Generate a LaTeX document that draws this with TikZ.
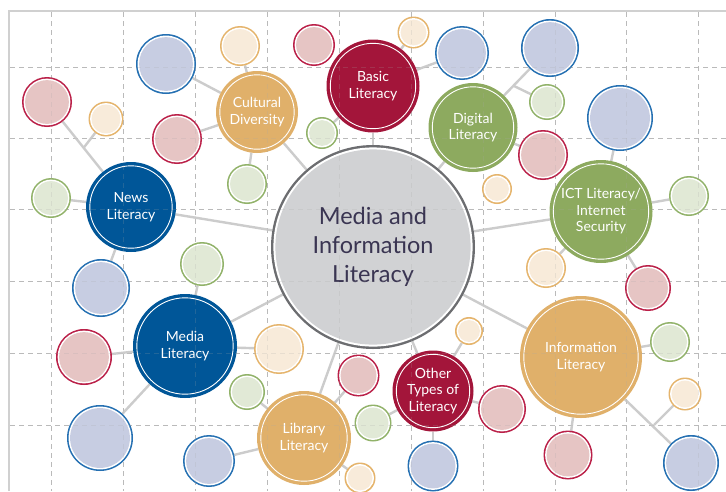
\documentclass[tikz,border=0pt]{standalone}
\usepackage{fontspec}
\setmainfont{Lato}
\usetikzlibrary{calc}
\definecolor{cblue}{RGB}{0,86,152}
\definecolor{cred}{RGB}{163,21,58}
\definecolor{cgold}{RGB}{224,176,106}
\definecolor{cgreen}{RGB}{141,170,95}
\definecolor{bring}{RGB}{37,112,178}
\definecolor{bfill}{RGB}{199,205,226}
\definecolor{rring}{RGB}{186,32,72}
\definecolor{rfill}{RGB}{230,197,196}
\definecolor{yring}{RGB}{229,180,108}
\definecolor{yfill}{RGB}{248,235,218}
\definecolor{gring}{RGB}{145,178,105}
\definecolor{gfill}{RGB}{225,233,214}
\definecolor{ctrring}{RGB}{108,109,112}
\definecolor{ctrfill}{RGB}{209,210,212}
\definecolor{ctrtext}{RGB}{58,53,82}
\definecolor{linkgray}{RGB}{204,204,204}
\definecolor{framegray}{RGB}{208,208,208}
\pgfdeclarelayer{gridl}
\pgfdeclarelayer{conn}
\pgfdeclarelayer{over}
\pgfsetlayers{gridl,conn,main,over}
\tikzset{
  gridline/.style={draw=gray!50, line width=0.9pt, dash pattern=on 5pt off 4pt},
  gridover/.style={draw=gray!70, line width=0.9pt, dash pattern=on 5pt off 4pt, opacity=0.2},
  framel/.style={draw=framegray, line width=1.5pt},
  link/.style={draw=linkgray, line width=2.4pt},
  bubnode/.style={circle, inner sep=0pt, outer sep=0pt},
  catlabel/.style={text=white, align=center, font=\fontsize{14}{16.5}\selectfont},
  ctrlabel/.style={text=ctrtext, align=center, font=\fontsize{23.5}{29}\selectfont},
}
% small bubble: name, x, y, r, kind (b/r/y/g)
\newcommand\bub[5]{%
  \fill[#5ring] (#2,#3) circle[radius=#4*1pt];
  \fill[white] (#2,#3) circle[radius=(#4-1.6)*1pt];
  \fill[#5fill] (#2,#3) circle[radius=(#4-3.1)*1pt];
  \node[bubnode, minimum size=2*#4*1pt] (#1) at (#2,#3) {};
}
% category circle: name, x, y, r, colour, text
\newcommand\catc[6]{%
  \fill[#5] (#2,#3) circle[radius=#4*1pt];
  \draw[white, line width=0.9pt] (#2,#3) circle[radius=(#4-3.8)*1pt];
  \node[bubnode, catlabel, minimum size=2*#4*1pt] (#1) at (#2,#3) {#6};
}
\begin{document}
\begin{tikzpicture}[x=1pt,y=-1pt]
\useasboundingbox (0,0) rectangle (726,491);
\begin{pgfonlayer}{gridl}
  \fill[white] (0,0) rectangle (726,491);
  \foreach \gx in {51,123,195,267,339,411,483,555,626,698}
    \draw[gridline] (\gx,12) -- (\gx,491);
  \foreach \gy in {67,138,209,281,353,425}
    \draw[gridline] (10,\gy) -- (726,\gy);
  \draw[framel] (9,491) -- (9,11) -- (726,11);
\end{pgfonlayer}

% centre
\fill[ctrring] (373,247) circle[radius=102pt];
\fill[white] (373,247) circle[radius=99.6pt];
\fill[ctrfill] (373,247) circle[radius=97.6pt];
\node[bubnode, ctrlabel, minimum size=204pt] (ctr) at (373,247) {Media and\\Information\\Literacy};

% categories
\catc{basic}{373}{86}{46.5}{cred}{Basic\\Literacy}
\catc{cult}{257}{112}{41}{cgold}{Cultural\\Diversity}
\catc{digit}{473}{127.5}{44.5}{cgreen}{Digital\\Literacy}
\catc{ict}{601}{211.5}{51.5}{cgreen}{ICT Literacy/\\Internet\\Security}
\catc{news}{131}{207}{45}{cblue}{News\\Literacy}
\catc{media}{185}{346}{52}{cblue}{Media\\Literacy}
\catc{lib}{304}{438}{47}{cgold}{Library\\Literacy}
\catc{other}{433}{391}{40.5}{cred}{Other\\Types of\\Literacy}
\catc{info}{581}{357}{61}{cgold}{Information\\Literacy}

% small bubbles
\bub{b1}{166}{64}{30}{b}
\bub{y1}{240}{46}{20}{y}
\bub{r1}{314}{45}{21}{r}
\bub{r2}{47}{102}{25}{r}
\bub{y2}{106}{119}{17.5}{y}
\bub{r3}{177}{139}{25}{r}
\bub{g1}{322}{133}{16}{g}
\bub{g2}{247}{184}{20}{g}
\bub{g3}{51}{198}{20}{g}
\bub{y3}{413.5}{32.5}{16}{y}
\bub{b2}{462}{53}{27}{b}
\bub{b3}{550}{48}{29}{b}
\bub{g4}{547}{102}{18}{g}
\bub{b4}{620}{118}{33}{b}
\bub{r4}{543}{155}{25}{r}
\bub{y4}{497}{189}{15}{y}
\bub{g5}{689}{196}{20}{g}
\bub{b5}{101}{288}{29}{b}
\bub{g6}{202}{264}{22}{g}
\bub{r5}{84}{357}{28}{r}
\bub{y5}{279}{349}{25}{y}
\bub{g7}{247}{392}{18}{g}
\bub{b6}{100}{438}{33}{b}
\bub{b7}{209}{461}{26}{b}
\bub{r6}{358.5}{375.5}{21}{r}
\bub{g8}{373}{423}{18.5}{g}
\bub{y6}{360}{478}{15.5}{y}
\bub{y7}{546}{268}{20}{y}
\bub{r7}{648}{288}{23}{r}
\bub{y8}{469}{331}{14}{y}
\bub{g9}{670}{342}{20}{g}
\bub{r8}{502}{409}{24}{r}
\bub{y9}{685}{394}{16.5}{y}
\bub{r9}{568}{455}{24.5}{r}
\bub{b8}{433}{466}{25.5}{b}
\bub{b9}{691}{463}{28}{b}

% junctions
\coordinate (jn) at (83.5,148);
\coordinate (jd) at (514,86);
\coordinate (ji) at (654,425);

\begin{pgfonlayer}{conn}
  \foreach \a/\b in {news/ctr, news/g3, news/b5, news/r2, jn/y2,
                     cult/ctr, cult/b1, cult/y1, cult/r3, cult/g2,
                     basic/ctr, basic/y3, basic/b2, basic/g1,
                     digit/ctr, digit/b3, jd/g4, digit/r4,
                     ict/ctr, ict/b4, ict/g5, ict/y7, ict/r7,
                     media/ctr, media/g6, media/r5, media/y5, media/b6,
                     lib/ctr, lib/r6, lib/g7, lib/b7, lib/y6,
                     other/ctr, other/y8, other/r8, other/b8, other/g8,
                     info/ctr, info/g9, info/r9, info/b9, ji/y9}
    \draw[link] (\a) -- (\b);
\end{pgfonlayer}

\begin{pgfonlayer}{over}
  \foreach \gx in {51,123,195,267,339,411,483,555,626,698}
    \draw[gridover] (\gx,12) -- (\gx,491);
  \foreach \gy in {67,138,209,281,353,425}
    \draw[gridover] (10,\gy) -- (726,\gy);
\end{pgfonlayer}
\end{tikzpicture}
\end{document}
